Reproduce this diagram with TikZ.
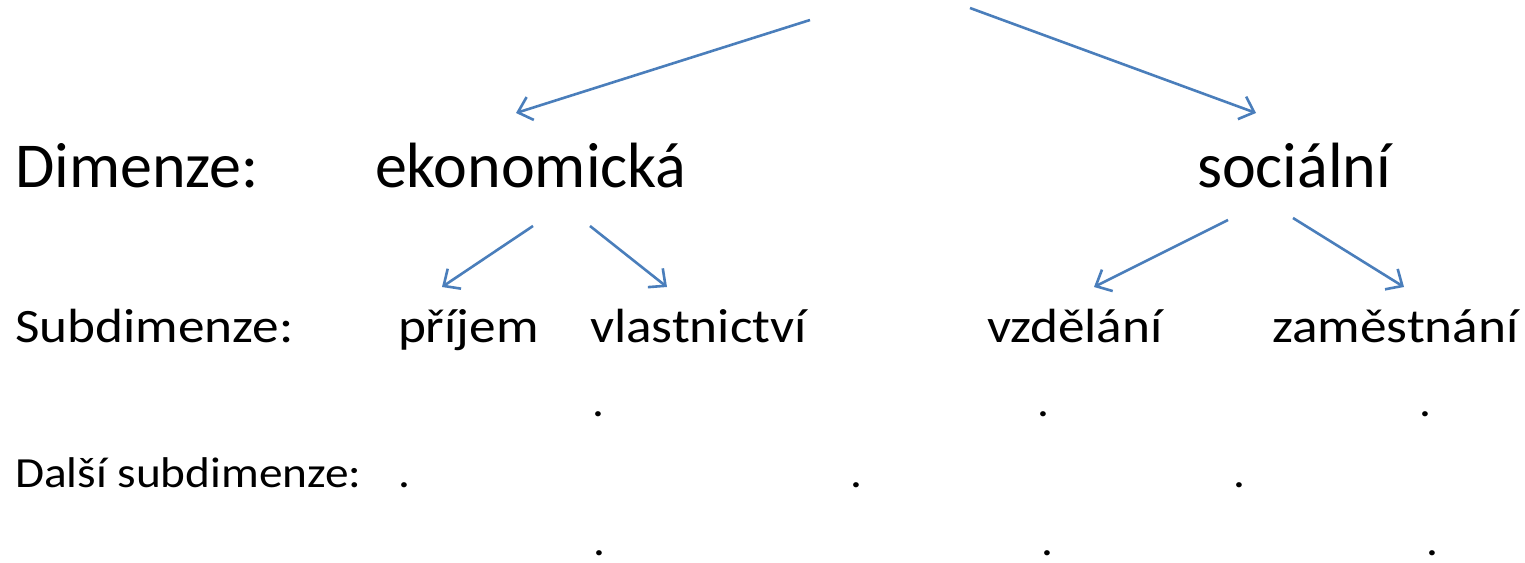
\documentclass[tikz,border=0pt]{standalone}
\usepackage{fontspec}
\setmainfont{Carlito}
\newfontfamily\midfont[FakeStretch=1.11]{Carlito}
\newfontfamily\smallfont[FakeStretch=1.10]{Carlito}
\usetikzlibrary{arrows.meta}
\definecolor{arrowblue}{RGB}{74,126,187}
\begin{document}
\begin{tikzpicture}[x=0.5pt,y=-0.5pt,
  lbl/.style={anchor=base west,inner sep=0pt,outer sep=0pt},
  big/.style={lbl,font=\fontsize{32}{38}\selectfont},
  mid/.style={lbl,font=\midfont\fontsize{24}{29}\selectfont},
  small/.style={lbl,font=\smallfont\fontsize{21.5}{26}\selectfont},
  conn/.style={draw=arrowblue,line width=1.3pt,-{Straight Barb[length=6.5pt,width=12pt,line width=1.3pt]}}]
\useasboundingbox (0,0) rectangle (1525,562);
% row 1
\node[big] (dim) at (15,187) {Dimenze:};
\node[big] (eko) at (375,187) {ekonomická};
\node[big] (soc) at (1197,187) {sociální};
% row 2
\node[mid] (sub) at (15,342) {Subdimenze:};
\node[mid] (pri) at (398,342) {příjem};
\node[mid] (vla) at (590,342) {vlastnictví};
\node[mid] (vzd) at (987,342) {vzdělání};
\node[mid] (zam) at (1272,342) {zaměstnání};
% row 3
\node[small] (dal) at (15,487) {Další subdimenze:};
\node[small] (d1) at (398,487) {.};
\node[small] (d2) at (850,487) {.};
\node[small] (d3) at (1233,487) {.};
% dots above and below
\node[small] (u1) at (592,416) {.};
\node[small] (u2) at (1037,416) {.};
\node[small] (u3) at (1419,416) {.};
\node[small] (l1) at (593,555) {.};
\node[small] (l2) at (1041,555) {.};
\node[small] (l3) at (1426,555) {.};
% arrow end points
\coordinate (t1) at (810,20);
\coordinate (t2) at (970,8);
\coordinate (ekoin) at (516,113);
\coordinate (socin) at (1256,113);
\coordinate (ekoL) at (533,226);
\coordinate (ekoR) at (590,226);
\coordinate (socL) at (1228,220);
\coordinate (socR) at (1293,218);
\coordinate (priin) at (442,287);
\coordinate (vlain) at (667,287);
\coordinate (vzdin) at (1094,287);
\coordinate (zamin) at (1404,287);
\draw[conn] (t1) -- (ekoin);
\draw[conn] (t2) -- (socin);
\draw[conn] (ekoL) -- (priin);
\draw[conn] (ekoR) -- (vlain);
\draw[conn] (socL) -- (vzdin);
\draw[conn] (socR) -- (zamin);
\end{tikzpicture}
\end{document}
